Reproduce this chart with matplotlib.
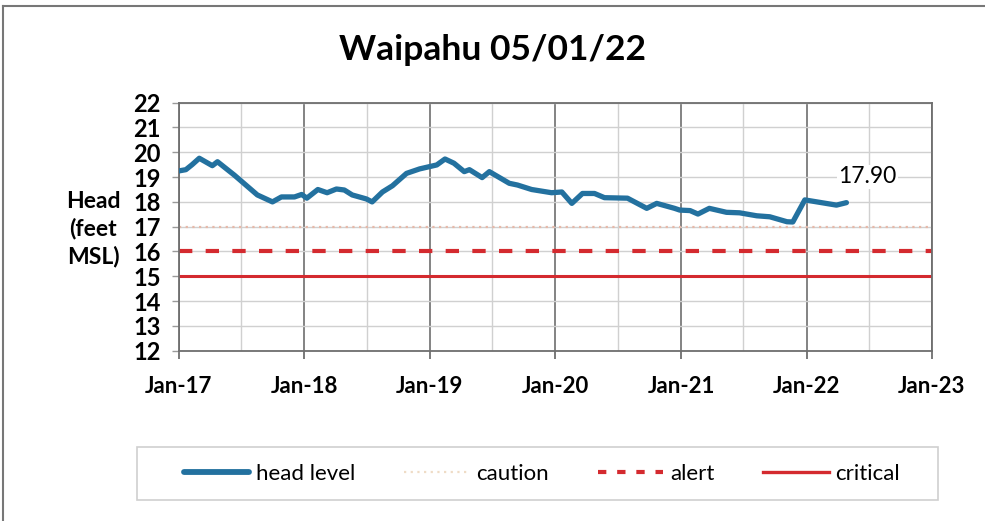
import matplotlib
matplotlib.use("Agg")
import matplotlib.pyplot as plt
import matplotlib.dates as mdates
import numpy as np
from datetime import datetime
from matplotlib.lines import Line2D
from matplotlib.patches import Rectangle

dates = ["2017-01-01", "2017-01-21", "2017-02-08", "2017-03-01", "2017-04-08", "2017-04-23",
         "2017-06-11", "2017-08-17", "2017-09-30", "2017-10-26", "2017-12-03", "2017-12-24",
         "2018-01-08", "2018-02-09", "2018-03-08", "2018-04-04", "2018-04-27", "2018-05-20",
         "2018-06-30", "2018-07-17", "2018-08-16", "2018-09-14", "2018-10-25", "2018-12-02",
         "2019-01-21", "2019-02-14", "2019-03-12", "2019-04-11", "2019-04-26", "2019-06-02",
         "2019-06-23", "2019-08-20", "2019-09-13", "2019-10-24", "2019-12-21", "2020-01-20",
         "2020-02-18", "2020-03-20", "2020-04-24", "2020-05-23", "2020-07-29", "2020-09-23",
         "2020-10-22", "2020-12-13", "2020-12-28", "2021-01-27", "2021-02-19", "2021-03-24",
         "2021-05-13", "2021-06-20", "2021-08-09", "2021-09-16", "2021-11-05", "2021-11-22",
         "2021-12-27", "2022-02-09", "2022-03-29", "2022-04-27"]
head_level = [19.25, 19.30, 19.50, 19.76, 19.46, 19.62,
              19.08, 18.28, 18.00, 18.20, 18.20, 18.30,
              18.15, 18.50, 18.37, 18.52, 18.48, 18.28,
              18.12, 18.00, 18.40, 18.65, 19.15, 19.33,
              19.49, 19.73, 19.56, 19.22, 19.30, 18.98,
              19.22, 18.75, 18.68, 18.50, 18.37, 18.40,
              17.94, 18.34, 18.34, 18.17, 18.15, 17.74,
              17.94, 17.74, 17.67, 17.65, 17.51, 17.74,
              17.58, 17.56, 17.44, 17.40, 17.20, 17.19,
              18.08, 17.98, 17.87, 17.97]
caution = 17
alert = 16
critical = 15
last_label = "17.90"
title = "Waipahu 05/01/22"
ylabel = "Head\n(feet\nMSL)"
legend_labels = ["head level", "caution", "alert", "critical"]

FONT = ["Lato", "DejaVu Sans"]
plt.rcParams["font.family"] = FONT

W, H = 985, 521
x = [datetime.strptime(d, "%Y-%m-%d") for d in dates]
x0, x1 = datetime(2017, 1, 1), datetime(2023, 1, 1)

fig = plt.figure(figsize=(W / 100, H / 100), dpi=100)
ax = fig.add_axes([179 / W, 1 - 350.7 / H, (932 - 179) / W, (350.7 - 102.7) / H])

ax.set_xlim(x0, x1)
ax.set_ylim(12, 22)
ax.set_yticks(np.arange(12, 23, 1))

ax.xaxis.set_major_locator(mdates.YearLocator())
ax.xaxis.set_major_formatter(mdates.DateFormatter("%b-%y"))
ax.xaxis.set_minor_locator(mdates.MonthLocator(bymonth=7))

ax.grid(True, which="major", axis="x", color="#7a7a7a", linewidth=1.3)
ax.grid(True, which="minor", axis="x", color="#d0d0d0", linewidth=1.0)
ax.grid(True, which="major", axis="y", color="#d0d0d0", linewidth=1.0)
ax.set_axisbelow(True)

for s in ax.spines.values():
    s.set_color("#6e6e6e")
    s.set_linewidth(1.3)

ax.tick_params(axis="x", which="major", direction="out", length=6, width=1.3,
               color="#6e6e6e", labelsize=16, pad=12)
ax.tick_params(axis="x", which="minor", length=0)
ax.tick_params(axis="y", direction="out", length=5, width=1.0, color="#9a9a9a",
               labelsize=17, pad=8)
for lab in ax.get_xticklabels() + ax.get_yticklabels():
    lab.set_fontweight("bold")

ax.axhline(caution, color="#e7b8a8", linestyle=(0, (1, 2)), linewidth=1.6)
ax.axhline(alert, color="#d42a2f", linestyle=(0, (3.2, 3.2)), linewidth=3.0)
ax.axhline(critical, color="#d42a2f", linestyle="-", linewidth=2.2)
ax.plot(x, head_level, color="#23719f", linewidth=3.8, solid_capstyle="round",
        solid_joinstyle="round", zorder=5)

ax.annotate(last_label, xy=(x[-1], head_level[-1]), xytext=(-6, 18.5), textcoords="offset points",
            fontsize=16.5, ha="left", va="center",
            bbox=dict(facecolor="white", edgecolor="none", pad=1))

fig.text(0.5, 1 - 50 / H, title, ha="center", va="center", fontsize=25.5, fontweight="bold")
fig.text(93 / W, 1 - 229 / H, ylabel, ha="center", va="center", fontsize=16.5, fontweight="bold",
         linespacing=1.35)

handles = [Line2D([], [], color="#23719f", linewidth=4.2, solid_capstyle="round"),
           Line2D([], [], color="#efdcc6", linestyle=(0, (1, 2)), linewidth=1.6),
           Line2D([], [], color="#d42a2f", linestyle=(0, (2, 2.6)), linewidth=3.0),
           Line2D([], [], color="#d42a2f", linewidth=2.4)]
leg = fig.legend(handles, legend_labels, loc="center", bbox_to_anchor=(542 / W, 1 - 473.5 / H),
                 ncol=4, fontsize=16, frameon=False,
                 handlelength=2.95, handletextpad=0.3, columnspacing=2.2)

fig.add_artist(Rectangle((137 / W, 1 - 500 / H), (938 - 137) / W, 53 / H,
                         transform=fig.transFigure, facecolor="none",
                         edgecolor="#cfcfcf", linewidth=1.2))

# outer border lines (left and top)
fig.add_artist(Line2D([0.003, 0.003], [0.0, 0.988], color="#777777", linewidth=1.5,
                      transform=fig.transFigure))
fig.add_artist(Line2D([0.003, 1.0], [0.988, 0.988], color="#777777", linewidth=1.5,
                      transform=fig.transFigure))

fig.savefig("out.png", dpi=100, facecolor="white")
